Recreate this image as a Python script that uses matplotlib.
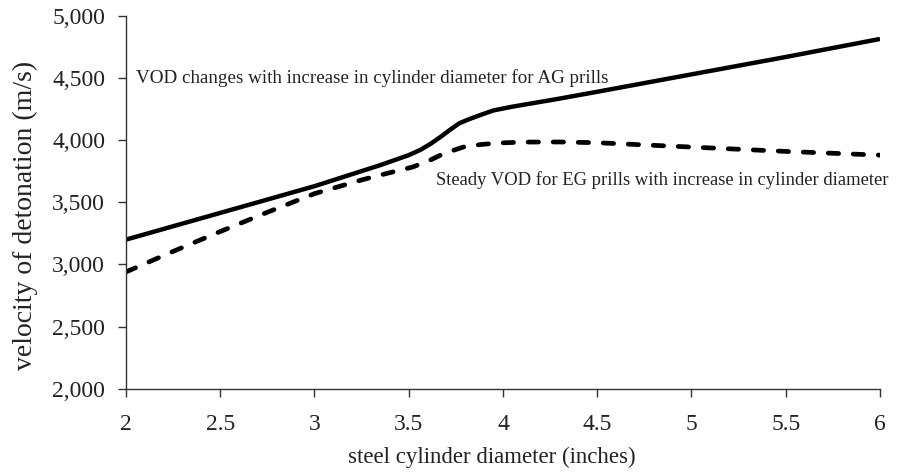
import numpy as np
import matplotlib.pyplot as plt
from matplotlib.ticker import FuncFormatter

## Values
diam_ag = [2, 2.5, 3, 3.35, 3.5, 3.56, 3.62, 3.67, 3.72, 3.77, 3.83, 3.88, 3.95, 4.05, 4.3, 4.5, 5, 5.5, 6]
vod_ag = [3200, 3415, 3630, 3800, 3880, 3921, 3975, 4028, 4085, 4138, 4175, 4203, 4240, 4270, 4335, 4390, 4530, 4670, 4815]

diam_eg = [2, 2.25, 2.5, 2.75, 3, 3.25, 3.35, 3.52, 3.6, 3.67, 3.73, 3.79, 3.88, 3.97, 4.1, 4.3, 4.5, 5, 5.5, 6]
vod_eg = [2940, 3105, 3265, 3420, 3570, 3680, 3720, 3784, 3830, 3881, 3915, 3945, 3965, 3977, 3985, 3986, 3980, 3945, 3910, 3880]

x_ticks = [2, 2.5, 3, 3.5, 4, 4.5, 5, 5.5, 6]
y_ticks = [2000, 2500, 3000, 3500, 4000, 4500, 5000]

plt.rcParams['font.family'] = ['Liberation Serif', 'DejaVu Serif']

fig = plt.figure(figsize=(9.03, 4.76), dpi=100)
ax = fig.add_axes([0.1395, 0.1834, 0.835, 0.7830])

ax.plot(diam_ag, vod_ag, color='black', lw=3.2, solid_capstyle='butt',
        solid_joinstyle='round')
ax.plot(diam_eg, vod_eg, color='black', lw=3.4, linestyle=(0, (2.2, 3.1)),
        dash_capstyle='round')

ax.text(2.055, 4500, 'VOD changes with increase in cylinder diameter for AG prills',
        fontsize=13.7, va='center', ha='left', color='#222222')
ax.text(3.645, 3680, 'Steady VOD for EG prills with increase in cylinder diameter',
        fontsize=13.4, va='center', ha='left', color='#222222')

ax.set_xlim(2, 6)
ax.set_ylim(2000, 5000)
ax.set_xticks(x_ticks)
ax.set_yticks(y_ticks)
ax.xaxis.set_major_formatter(FuncFormatter(lambda v, p: f'{v:g}'))
ax.yaxis.set_major_formatter(FuncFormatter(lambda v, p: f'{int(v):,}'))

for s in ['top', 'right']:
    ax.spines[s].set_visible(False)
for s in ['left', 'bottom']:
    ax.spines[s].set_linewidth(1.0)
    ax.spines[s].set_color('#333333')
ax.tick_params(direction='out', length=6, width=1.0, colors='#333333',
               labelsize=17, labelcolor='#222222')
ax.tick_params(axis='x', pad=12)
ax.tick_params(axis='y', pad=9)

ax.set_xlabel('steel cylinder diameter (inches)', fontsize=16.5, color='#222222')
ax.set_ylabel('velocity of detonation (m/s)', fontsize=20, color='#222222')
ax.xaxis.set_label_coords(0.485, -0.155)
ax.yaxis.set_label_coords(-0.117, 0.466)

fig.savefig('out.png', dpi=100)
